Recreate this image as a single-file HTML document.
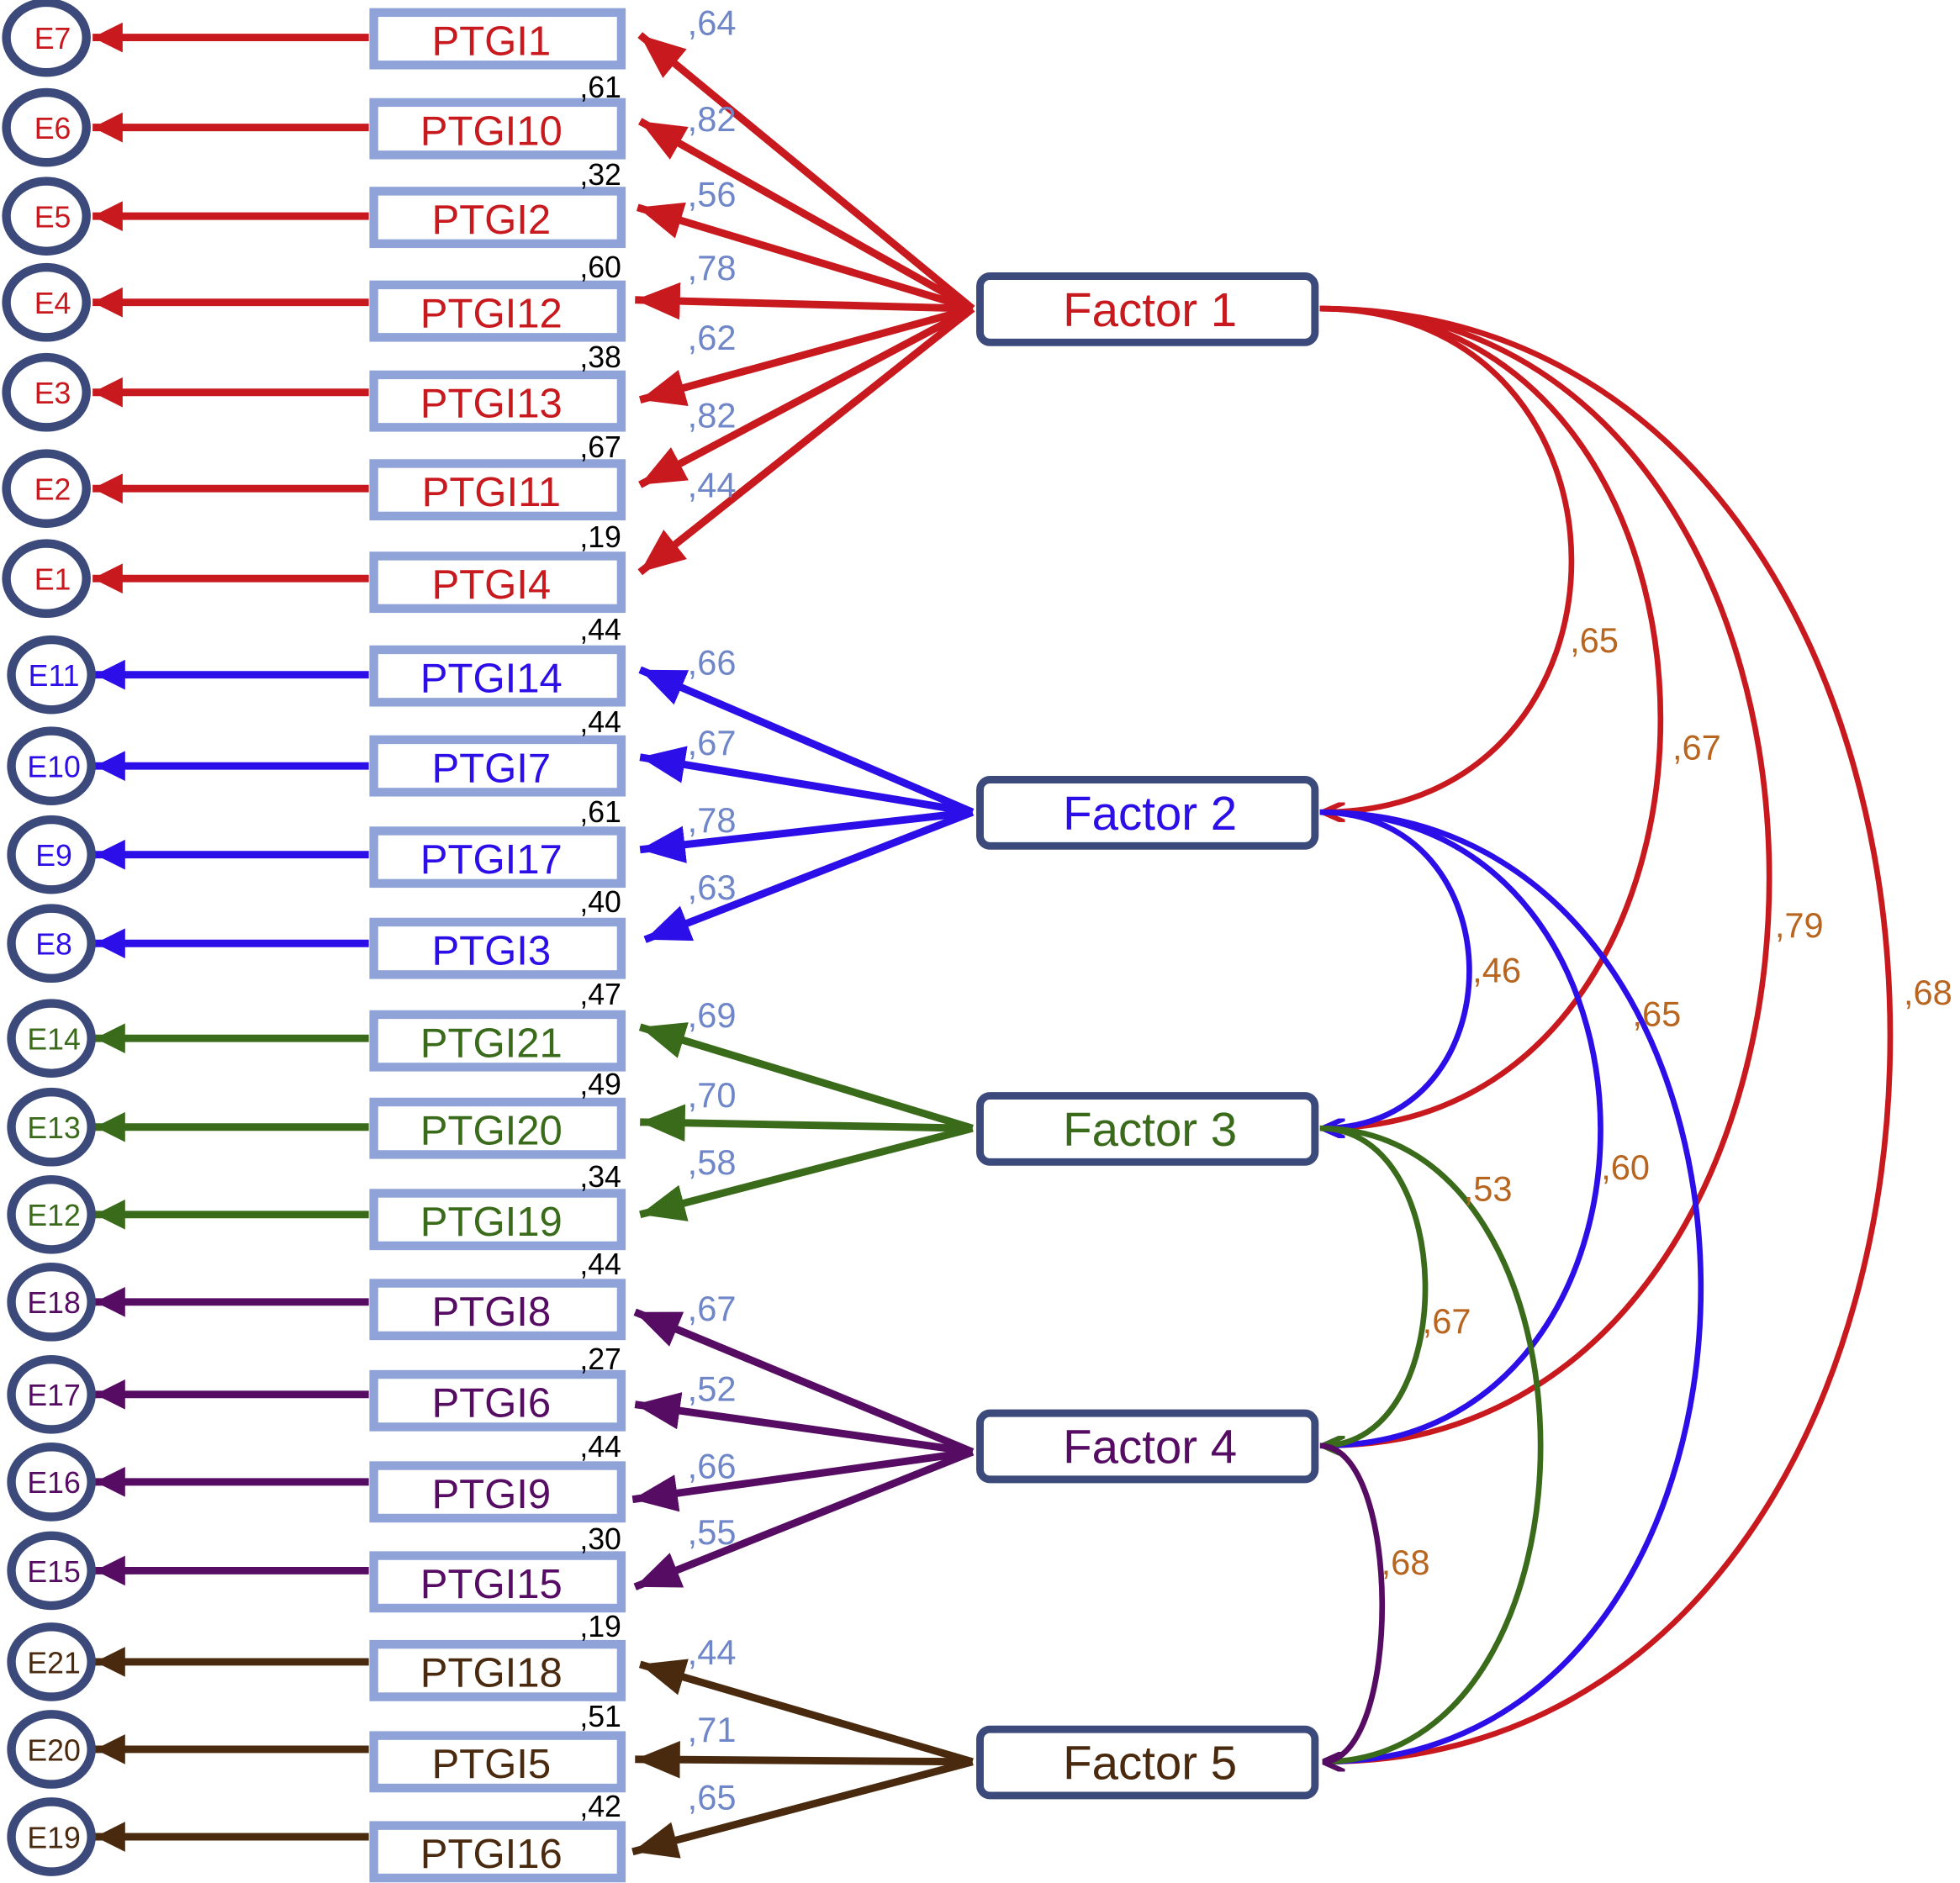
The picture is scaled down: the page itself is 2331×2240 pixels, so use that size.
<!DOCTYPE html>
<html><head><meta charset="utf-8"><style>
html,body{margin:0;padding:0;background:#fff;}
svg{display:block;}
text{font-family:"Liberation Sans",sans-serif;}
</style></head><body>
<svg width="2331" height="2240" viewBox="0 0 1568 1507" xmlns="http://www.w3.org/2000/svg">
<defs>
<marker id="mr" viewBox="0 0 36 30" refX="36" refY="15" markerWidth="36" markerHeight="30" orient="auto" markerUnits="userSpaceOnUse"><path d="M0,0 L36,15 L0,30 z" fill="#c8191e"/></marker>
<marker id="mb" viewBox="0 0 36 30" refX="36" refY="15" markerWidth="36" markerHeight="30" orient="auto" markerUnits="userSpaceOnUse"><path d="M0,0 L36,15 L0,30 z" fill="#2b0ee8"/></marker>
<marker id="mg" viewBox="0 0 36 30" refX="36" refY="15" markerWidth="36" markerHeight="30" orient="auto" markerUnits="userSpaceOnUse"><path d="M0,0 L36,15 L0,30 z" fill="#3a6b1a"/></marker>
<marker id="mp" viewBox="0 0 36 30" refX="36" refY="15" markerWidth="36" markerHeight="30" orient="auto" markerUnits="userSpaceOnUse"><path d="M0,0 L36,15 L0,30 z" fill="#560c63"/></marker>
<marker id="mn" viewBox="0 0 36 30" refX="36" refY="15" markerWidth="36" markerHeight="30" orient="auto" markerUnits="userSpaceOnUse"><path d="M0,0 L36,15 L0,30 z" fill="#4a2a0e"/></marker>
<marker id="sr" viewBox="0 0 24 24" refX="24" refY="12" markerWidth="24" markerHeight="24" orient="auto" markerUnits="userSpaceOnUse"><path d="M0,0 L24,12 L0,24 z" fill="#c8191e"/></marker>
<marker id="sb" viewBox="0 0 24 24" refX="24" refY="12" markerWidth="24" markerHeight="24" orient="auto" markerUnits="userSpaceOnUse"><path d="M0,0 L24,12 L0,24 z" fill="#2b0ee8"/></marker>
<marker id="sg" viewBox="0 0 24 24" refX="24" refY="12" markerWidth="24" markerHeight="24" orient="auto" markerUnits="userSpaceOnUse"><path d="M0,0 L24,12 L0,24 z" fill="#3a6b1a"/></marker>
<marker id="sp" viewBox="0 0 24 24" refX="24" refY="12" markerWidth="24" markerHeight="24" orient="auto" markerUnits="userSpaceOnUse"><path d="M0,0 L24,12 L0,24 z" fill="#560c63"/></marker>
<marker id="sn" viewBox="0 0 24 24" refX="24" refY="12" markerWidth="24" markerHeight="24" orient="auto" markerUnits="userSpaceOnUse"><path d="M0,0 L24,12 L0,24 z" fill="#4a2a0e"/></marker>
<marker id="cr" viewBox="0 0 18 16" refX="18" refY="8" markerWidth="18" markerHeight="16" orient="auto" markerUnits="userSpaceOnUse"><path d="M0,0 L18,8 L0,16" fill="none" stroke="#c8191e" stroke-width="4"/></marker>
<marker id="cb" viewBox="0 0 18 16" refX="18" refY="8" markerWidth="18" markerHeight="16" orient="auto" markerUnits="userSpaceOnUse"><path d="M0,0 L18,8 L0,16" fill="none" stroke="#2b0ee8" stroke-width="4"/></marker>
<marker id="cg" viewBox="0 0 18 16" refX="18" refY="8" markerWidth="18" markerHeight="16" orient="auto" markerUnits="userSpaceOnUse"><path d="M0,0 L18,8 L0,16" fill="none" stroke="#3a6b1a" stroke-width="4"/></marker>
<marker id="cp" viewBox="0 0 18 16" refX="18" refY="8" markerWidth="18" markerHeight="16" orient="auto" markerUnits="userSpaceOnUse"><path d="M0,0 L18,8 L0,16" fill="none" stroke="#560c63" stroke-width="4"/></marker>
</defs>

<g fill="none" stroke-width="4.5">
<path d="M1056,247 C1324,247 1324,650 1058,650" stroke="#c8191e" marker-end="url(#cr)"/>
<path d="M1056,247 C1419,247 1419,903 1058,903" stroke="#c8191e" marker-end="url(#cr)"/>
<path d="M1056,247 C1535,247 1535,1157 1058,1157" stroke="#c8191e" marker-end="url(#cr)"/>
<path d="M1056,247 C1664,247 1664,1410 1058,1410" stroke="#c8191e" marker-end="url(#cr)"/>
<path d="M1056,650 C1215,650 1215,903 1058,903" stroke="#2b0ee8" marker-end="url(#cb)"/>
<path d="M1056,650 C1355,650 1355,1157 1058,1157" stroke="#2b0ee8" marker-end="url(#cb)"/>
<path d="M1056,650 C1462,650 1462,1410 1058,1410" stroke="#2b0ee8" marker-end="url(#cb)"/>
<path d="M1056,903 C1168,903 1168,1157 1058,1157" stroke="#3a6b1a" marker-end="url(#cg)"/>
<path d="M1056,903 C1291,903 1291,1410 1058,1410" stroke="#3a6b1a" marker-end="url(#cg)"/>
<path d="M1056,1157 C1122,1157 1122,1410 1058,1410" stroke="#560c63" marker-end="url(#cp)"/>
</g>
<g font-size="28" fill="#b8651f">
<text x="1256" y="522">,65</text><text x="1338" y="608">,67</text><text x="1420" y="750">,79</text><text x="1523" y="804">,68</text>
<text x="1178" y="786">,46</text><text x="1306" y="821">,65</text><text x="1281" y="944">,60</text><text x="1171" y="961">,53</text>
<text x="1138" y="1067">,67</text><text x="1105" y="1260">,68</text>
</g>

<g stroke-width="6">
<g stroke="#c8191e">
<line x1="778" y1="247" x2="512" y2="28" marker-end="url(#mr)"/>
<line x1="778" y1="247" x2="512" y2="97" marker-end="url(#mr)"/>
<line x1="778" y1="247" x2="510" y2="166" marker-end="url(#mr)"/>
<line x1="778" y1="247" x2="508" y2="240" marker-end="url(#mr)"/>
<line x1="778" y1="247" x2="512" y2="320" marker-end="url(#mr)"/>
<line x1="778" y1="247" x2="512" y2="388" marker-end="url(#mr)"/>
<line x1="778" y1="247" x2="512" y2="458" marker-end="url(#mr)"/>
</g>
<g stroke="#2b0ee8">
<line x1="778" y1="650" x2="512" y2="536" marker-end="url(#mb)"/>
<line x1="778" y1="650" x2="512" y2="606" marker-end="url(#mb)"/>
<line x1="778" y1="650" x2="512" y2="680" marker-end="url(#mb)"/>
<line x1="778" y1="650" x2="516" y2="752" marker-end="url(#mb)"/>
</g>
<g stroke="#3a6b1a">
<line x1="778" y1="903" x2="512" y2="822" marker-end="url(#mg)"/>
<line x1="778" y1="903" x2="512" y2="898" marker-end="url(#mg)"/>
<line x1="778" y1="903" x2="512" y2="972" marker-end="url(#mg)"/>
</g>
<g stroke="#560c63">
<line x1="778" y1="1162" x2="508" y2="1050" marker-end="url(#mp)"/>
<line x1="778" y1="1162" x2="508" y2="1124" marker-end="url(#mp)"/>
<line x1="778" y1="1162" x2="506" y2="1200" marker-end="url(#mp)"/>
<line x1="778" y1="1162" x2="508" y2="1270" marker-end="url(#mp)"/>
</g>
<g stroke="#4a2a0e">
<line x1="778" y1="1410" x2="512" y2="1332" marker-end="url(#mn)"/>
<line x1="778" y1="1410" x2="508" y2="1408" marker-end="url(#mn)"/>
<line x1="778" y1="1410" x2="506" y2="1482" marker-end="url(#mn)"/>
</g>
</g>
<g font-size="28" fill="#6f86c8">
<text x="550" y="28">,64</text><text x="550" y="105">,82</text><text x="550" y="165">,56</text><text x="550" y="224">,78</text>
<text x="550" y="280">,62</text><text x="550" y="342">,82</text><text x="550" y="398">,44</text>
<text x="550" y="540">,66</text><text x="550" y="604">,67</text><text x="550" y="666">,78</text><text x="550" y="720">,63</text>
<text x="550" y="822">,69</text><text x="550" y="886">,70</text><text x="550" y="940">,58</text>
<text x="550" y="1057">,67</text><text x="550" y="1121">,52</text><text x="550" y="1183">,66</text><text x="550" y="1236">,55</text>
<text x="550" y="1332">,44</text><text x="550" y="1394">,71</text><text x="550" y="1448">,65</text>
</g>

<g stroke-width="6">
<g stroke="#c8191e">
<line x1="295" y1="30" x2="74" y2="30" marker-end="url(#sr)"/>
<line x1="295" y1="102" x2="74" y2="102" marker-end="url(#sr)"/>
<line x1="295" y1="173" x2="74" y2="173" marker-end="url(#sr)"/>
<line x1="295" y1="242" x2="74" y2="242" marker-end="url(#sr)"/>
<line x1="295" y1="314" x2="74" y2="314" marker-end="url(#sr)"/>
<line x1="295" y1="391" x2="74" y2="391" marker-end="url(#sr)"/>
<line x1="295" y1="463" x2="74" y2="463" marker-end="url(#sr)"/>
</g>
<g stroke="#2b0ee8">
<line x1="295" y1="540" x2="76" y2="540" marker-end="url(#sb)"/>
<line x1="295" y1="613" x2="76" y2="613" marker-end="url(#sb)"/>
<line x1="295" y1="684" x2="76" y2="684" marker-end="url(#sb)"/>
<line x1="295" y1="755" x2="76" y2="755" marker-end="url(#sb)"/>
</g>
<g stroke="#3a6b1a">
<line x1="295" y1="831" x2="76" y2="831" marker-end="url(#sg)"/>
<line x1="295" y1="902" x2="76" y2="902" marker-end="url(#sg)"/>
<line x1="295" y1="972" x2="76" y2="972" marker-end="url(#sg)"/>
</g>
<g stroke="#560c63">
<line x1="295" y1="1042" x2="76" y2="1042" marker-end="url(#sp)"/>
<line x1="295" y1="1116" x2="76" y2="1116" marker-end="url(#sp)"/>
<line x1="295" y1="1186" x2="76" y2="1186" marker-end="url(#sp)"/>
<line x1="295" y1="1257" x2="76" y2="1257" marker-end="url(#sp)"/>
</g>
<g stroke="#4a2a0e">
<line x1="295" y1="1330" x2="76" y2="1330" marker-end="url(#sn)"/>
<line x1="295" y1="1400" x2="76" y2="1400" marker-end="url(#sn)"/>
<line x1="295" y1="1470" x2="76" y2="1470" marker-end="url(#sn)"/>
</g>
</g>

<g fill="#fff" stroke="#3b4a7a" stroke-width="7">
<ellipse cx="37" cy="30" rx="32" ry="28"/><ellipse cx="37" cy="102" rx="32" ry="28"/><ellipse cx="37" cy="173" rx="32" ry="28"/>
<ellipse cx="37" cy="242" rx="32" ry="28"/><ellipse cx="37" cy="314" rx="32" ry="28"/><ellipse cx="37" cy="391" rx="32" ry="28"/>
<ellipse cx="37" cy="463" rx="32" ry="28"/>
<ellipse cx="41" cy="540" rx="32" ry="28"/><ellipse cx="41" cy="613" rx="32" ry="28"/><ellipse cx="41" cy="684" rx="32" ry="28"/>
<ellipse cx="41" cy="755" rx="32" ry="28"/><ellipse cx="41" cy="831" rx="32" ry="28"/><ellipse cx="41" cy="902" rx="32" ry="28"/>
<ellipse cx="41" cy="972" rx="32" ry="28"/><ellipse cx="41" cy="1042" rx="32" ry="28"/><ellipse cx="41" cy="1116" rx="32" ry="28"/>
<ellipse cx="41" cy="1186" rx="32" ry="28"/><ellipse cx="41" cy="1257" rx="32" ry="28"/><ellipse cx="41" cy="1330" rx="32" ry="28"/>
<ellipse cx="41" cy="1400" rx="32" ry="28"/><ellipse cx="41" cy="1470" rx="32" ry="28"/>
</g>
<g font-size="24" text-anchor="middle">
<g fill="#c8191e">
<text x="42" y="39">E7</text><text x="42" y="111">E6</text><text x="42" y="182">E5</text><text x="42" y="251">E4</text>
<text x="42" y="323">E3</text><text x="42" y="400">E2</text><text x="42" y="472">E1</text></g>
<g fill="#2b0ee8"><text x="43" y="549">E11</text><text x="43" y="622">E10</text><text x="43" y="693">E9</text><text x="43" y="764">E8</text></g>
<g fill="#3a6b1a"><text x="43" y="840">E14</text><text x="43" y="911">E13</text><text x="43" y="981">E12</text></g>
<g fill="#560c63"><text x="43" y="1051">E18</text><text x="43" y="1125">E17</text><text x="43" y="1195">E16</text><text x="43" y="1266">E15</text></g>
<g fill="#4a2a0e"><text x="43" y="1339">E21</text><text x="43" y="1409">E20</text><text x="43" y="1479">E19</text></g>
</g>

<g fill="#fff" stroke="#8fa3d8" stroke-width="7">
<rect x="299" y="10" width="198" height="42"/><rect x="299" y="82" width="198" height="42"/><rect x="299" y="153" width="198" height="42"/>
<rect x="299" y="228" width="198" height="42"/><rect x="299" y="300" width="198" height="42"/><rect x="299" y="371" width="198" height="42"/>
<rect x="299" y="445" width="198" height="42"/><rect x="299" y="520" width="198" height="42"/><rect x="299" y="592" width="198" height="42"/>
<rect x="299" y="665" width="198" height="42"/><rect x="299" y="738" width="198" height="42"/><rect x="299" y="812" width="198" height="42"/>
<rect x="299" y="882" width="198" height="42"/><rect x="299" y="955" width="198" height="42"/><rect x="299" y="1027" width="198" height="42"/>
<rect x="299" y="1100" width="198" height="42"/><rect x="299" y="1173" width="198" height="42"/><rect x="299" y="1245" width="198" height="42"/>
<rect x="299" y="1316" width="198" height="42"/><rect x="299" y="1389" width="198" height="42"/><rect x="299" y="1461" width="198" height="42"/>
</g>
<g font-size="33" text-anchor="middle">
<g fill="#c8191e">
<text x="393" y="44">PTGI1</text><text x="393" y="116">PTGI10</text><text x="393" y="187">PTGI2</text><text x="393" y="262">PTGI12</text>
<text x="393" y="334">PTGI13</text><text x="393" y="405">PTGI11</text><text x="393" y="479">PTGI4</text></g>
<g fill="#2b0ee8"><text x="393" y="554">PTGI14</text><text x="393" y="626">PTGI7</text><text x="393" y="699">PTGI17</text><text x="393" y="772">PTGI3</text></g>
<g fill="#3a6b1a"><text x="393" y="846">PTGI21</text><text x="393" y="916">PTGI20</text><text x="393" y="989">PTGI19</text></g>
<g fill="#560c63"><text x="393" y="1061">PTGI8</text><text x="393" y="1134">PTGI6</text><text x="393" y="1207">PTGI9</text><text x="393" y="1279">PTGI15</text></g>
<g fill="#4a2a0e"><text x="393" y="1350">PTGI18</text><text x="393" y="1423">PTGI5</text><text x="393" y="1495">PTGI16</text></g>
</g>
<g font-size="24" fill="#000" text-anchor="end">
<text x="497" y="78">,61</text><text x="497" y="148">,32</text><text x="497" y="222">,60</text><text x="497" y="294">,38</text>
<text x="497" y="366">,67</text><text x="497" y="438">,19</text><text x="497" y="512">,44</text><text x="497" y="586">,44</text>
<text x="497" y="658">,61</text><text x="497" y="730">,40</text><text x="497" y="804">,47</text><text x="497" y="876">,49</text>
<text x="497" y="950">,34</text><text x="497" y="1020">,44</text><text x="497" y="1096">,27</text><text x="497" y="1166">,44</text>
<text x="497" y="1240">,30</text><text x="497" y="1310">,19</text><text x="497" y="1382">,51</text><text x="497" y="1454">,42</text>
</g>

<g fill="#fff" stroke="#3b4a7a" stroke-width="6">
<rect x="784" y="221" width="268" height="53" rx="8"/>
<rect x="784" y="624" width="268" height="53" rx="8"/>
<rect x="784" y="877" width="268" height="53" rx="8"/>
<rect x="784" y="1131" width="268" height="53" rx="8"/>
<rect x="784" y="1384" width="268" height="53" rx="8"/>
</g>
<g font-size="38" text-anchor="middle">
<text x="920" y="261" fill="#c8191e">Factor 1</text>
<text x="920" y="664" fill="#2b0ee8">Factor 2</text>
<text x="920" y="917" fill="#3a6b1a">Factor 3</text>
<text x="920" y="1171" fill="#560c63">Factor 4</text>
<text x="920" y="1424" fill="#4a2a0e">Factor 5</text>
</g>
</svg>
</body></html>
